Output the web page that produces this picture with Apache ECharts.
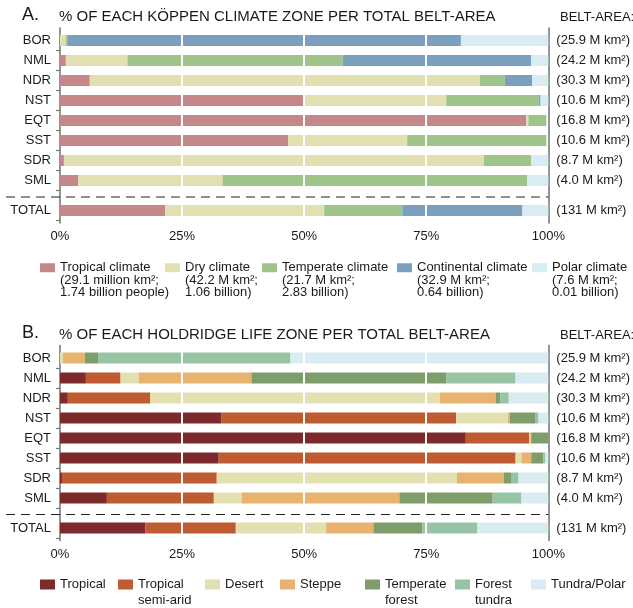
<!DOCTYPE html>
<html>
<head>
<meta charset="utf-8">
<script src="https://cdn.jsdelivr.net/npm/echarts@6/dist/echarts.min.js"></script>
<style>
  html, body { margin: 0; padding: 0; background: #fff; }
  #chart { width: 633px; height: 608px; }
</style>
</head>
<body>
<div id="chart"></div>
<script>
// Latitude belts and their land areas (million km²)
const belts = ['BOR', 'NML', 'NDR', 'NST', 'EQT', 'SST', 'SDR', 'SML', 'TOTAL'];
const beltAreas = ['25.9', '24.2', '30.3', '10.6', '16.8', '10.6', '8.7', '4.0', '131'];
const xTicks = [0, 25, 50, 75, 100];
const gridLines = [25, 50, 75];

// Köppen climate zones, % of belt area
const koppenNames = ['Tropical climate', 'Dry climate', 'Temperate climate', 'Continental climate', 'Polar climate'];
const koppenColors = ['#c4888a', '#e2e0b0', '#9fc48a', '#7b9fbe', '#d9ecf3'];
const koppenLegendLines = [
  ['Tropical climate', '(29.1 million km²;', '1.74 billion people)'],
  ['Dry climate', '(42.2 M km²;', '1.06 billion)'],
  ['Temperate climate', '(21.7 M km²;', '2.83 billion)'],
  ['Continental climate', '(32.9 M km²;', '0.64 billion)'],
  ['Polar climate', '(7.6 M km²;', '0.01 billion)']
];
const kTropical    = [0,    1.2,  6.1, 49.9, 95.5, 46.7,  0.8,  3.7, 21.5];
const kDry         = [1.2, 12.6, 79.9, 29.2,  0.4, 24.4, 86.0, 29.6, 32.6];
const kTemperate   = [0.3, 44.1,  5.1, 18.9,  3.7, 28.5,  9.7, 62.4, 16.0];
const kContinental = [80.6, 38.6, 5.6,  0.4,  0,    0,    0,    0,   24.6];
const kPolar       = [17.9, 3.5,  3.3,  1.6,  0,    0,    3.5,  4.3,  5.3];
const koppenValues = [kTropical, kDry, kTemperate, kContinental, kPolar];

// Holdridge life zones, % of belt area
const holdridgeNames = ['Tropical', 'Tropical semi-arid', 'Desert', 'Steppe', 'Temperate forest', 'Forest tundra', 'Tundra/Polar'];
const holdridgeColors = ['#7d2a2d', '#bf5b30', '#e2e0b0', '#e8b26f', '#7f9c6b', '#97c4a4', '#d9ecf3'];
const holdridgeLegendLines = [
  ['Tropical'], ['Tropical', 'semi-arid'], ['Desert'], ['Steppe'],
  ['Temperate', 'forest'], ['Forest', 'tundra'], ['Tundra/Polar']
];
const hTropical     = [0,    5.3,  1.6, 33.1, 83.1, 32.5,  0.4,  9.6, 17.5];
const hSemiArid     = [0,    7.1, 16.9, 48.0, 13.0, 60.8, 31.7, 21.9, 18.5];
const hDesert       = [0.6,  3.7, 59.3, 10.6,  0.2,  1.2, 49.2,  5.7, 18.5];
const hSteppe       = [4.5, 23.1, 11.4,  0.4,  0.2,  2.0,  9.6, 32.3,  9.7];
const hTempForest   = [2.8, 39.9,  1.0,  5.3,  3.5,  2.5,  1.6, 19.1, 10.0];
const hForestTundra = [39.3, 14.2, 1.7,  0.6,  0,    0.4,  1.4,  5.9, 11.2];
const hTundra       = [52.8,  6.7, 8.1,  2.0,  0,    0.6,  6.1,  5.5, 14.6];
const holdridgeValues = [hTropical, hSemiArid, hDesert, hSteppe, hTempForest, hForestTundra, hTundra];

const FONT = "'Liberation Sans', Arial, Helvetica, sans-serif";
const INK = '#1a1a1a';
const AXIS_GRAY = '#7a7a7a';

// The belt axis is laid out on thin 5px slots so the TOTAL row can sit
// further below the belts, with the separator in the wider gap.
const SLOT_COUNT = 39;
const beltSlot = i => (i < 8 ? 2 + 4 * i : 36);
const tickSlots = [4, 8, 12, 16, 20, 24, 28, 32, 38];
const slotNames = Array.from({ length: SLOT_COUNT }, (_, s) => {
  const i = belts.findIndex((b, j) => beltSlot(j) === s);
  return i >= 0 ? belts[i] : '_' + s;
});
function spread(values) {
  const out = new Array(SLOT_COUNT).fill('-');
  values.forEach((v, i) => { out[beltSlot(i)] = v; });
  return out;
}

function beltAxes(gridIndex) {
  return [
    {
      type: 'category', gridIndex, inverse: true, data: slotNames,
      axisLine: { show: true, lineStyle: { color: AXIS_GRAY, width: 1.6 } },
      axisTick: {
        show: true, alignWithLabel: true, length: 4,
        interval: idx => tickSlots.includes(idx),
        lineStyle: { color: AXIS_GRAY, width: 1.2 }
      },
      axisLabel: {
        interval: 0, margin: 9, fontSize: 13, color: INK, fontFamily: FONT,
        formatter: v => (v.charAt(0) === '_' ? '' : v)
      },
      splitLine: { show: false }
    },
    {
      type: 'category', gridIndex, inverse: true, position: 'right', data: slotNames,
      axisLine: { show: true, lineStyle: { color: AXIS_GRAY, width: 1.6 } },
      axisTick: { show: false },
      axisLabel: {
        interval: 0, margin: 8, fontSize: 13, color: INK, fontFamily: FONT,
        formatter: v => {
          const i = belts.indexOf(v);
          return i < 0 ? '' : '(' + beltAreas[i] + ' M km²)';
        }
      },
      splitLine: { show: false }
    }
  ];
}

function pctAxis(gridIndex) {
  return {
    type: 'value', gridIndex, min: xTicks[0], max: xTicks[xTicks.length - 1],
    interval: xTicks[1] - xTicks[0],
    axisLine: { show: false }, axisTick: { show: false }, splitLine: { show: false },
    axisLabel: { margin: 7, fontSize: 13, color: INK, fontFamily: FONT, formatter: '{value}%' }
  };
}

function stackSeries(names, colors, values, axisIdx, stack) {
  return names.map((name, k) => {
    const s = {
      name, type: 'bar', stack, barWidth: 11,
      xAxisIndex: axisIdx, yAxisIndex: axisIdx * 2,
      itemStyle: { color: colors[k] },
      data: spread(values[k])
    };
    if (k === 0) {
      s.markLine = {
        silent: true, symbol: ['none', 'none'], label: { show: false },
        lineStyle: { color: '#ffffff', width: 2, type: 'solid' },
        z: 5,
        data: gridLines.map(x => ({ xAxis: x }))
      };
    }
    return s;
  });
}

// Legend entries: the text block is padded with blank lines on top so that
// its first line sits level with the colour swatch.
function makeLegend(name, lines, left, iconTop, w, h, lh) {
  const n = lines.length;
  const textTop = h / 2 - (2 * n - 1) * lh / 2;
  const text = new Array(n - 1).fill('').concat(lines).join('\n');
  return {
    data: [name], left, top: iconTop + Math.min(0, textTop), padding: 0,
    orient: 'horizontal', itemWidth: w, itemHeight: h, itemGap: 0,
    icon: 'rect', selectedMode: false,
    formatter: () => text,
    textStyle: { fontSize: 13, color: INK, fontFamily: FONT, lineHeight: lh }
  };
}

const koppenLegendLeft = [40, 165, 262, 397, 532];
const holdridgeLegendLeft = [40, 118, 205, 280, 365, 455, 531];

const titleStyle = size => ({ fontSize: size, fontWeight: 'normal', color: INK, fontFamily: FONT });

const option = {
  animation: false,
  backgroundColor: '#ffffff',
  textStyle: { fontFamily: FONT },
  title: [
    { text: 'A.', left: 22, top: 6, padding: 0, textStyle: titleStyle(18) },
    { text: '% OF EACH KÖPPEN CLIMATE ZONE PER TOTAL BELT-AREA', left: 59, top: 9, padding: 0, textStyle: titleStyle(15) },
    { text: 'BELT-AREA:', left: 560, top: 11, padding: 0, textStyle: titleStyle(13) },
    { text: 'B.', left: 22, top: 324, padding: 0, textStyle: titleStyle(18) },
    { text: '% OF EACH HOLDRIDGE LIFE ZONE PER TOTAL BELT-AREA', left: 59, top: 327, padding: 0, textStyle: titleStyle(15) },
    { text: 'BELT-AREA:', left: 560, top: 329, padding: 0, textStyle: titleStyle(13) }
  ],
  grid: [
    { left: 60, right: 81, top: 28, height: 195 },
    { left: 60, right: 81, top: 345.5, height: 195 }
  ],
  xAxis: [pctAxis(0), pctAxis(1)],
  yAxis: [...beltAxes(0), ...beltAxes(1)],
  legend: [
    ...koppenNames.map((nm, i) => makeLegend(nm, koppenLegendLines[i], koppenLegendLeft[i], 263, 15, 9, 12.5)),
    ...holdridgeNames.map((nm, i) => makeLegend(nm, holdridgeLegendLines[i], holdridgeLegendLeft[i], 579.5, 15, 10, 15.5))
  ],
  series: [
    ...stackSeries(koppenNames, koppenColors, koppenValues, 0, 'koppen'),
    ...stackSeries(holdridgeNames, holdridgeColors, holdridgeValues, 1, 'holdridge')
  ]
};

const chart = echarts.init(document.getElementById('chart'), null, { renderer: 'canvas' });
chart.setOption(option);

// Dashed separator between the belts and the TOTAL row, placed through the axes
function separator(axisIdx) {
  const a = chart.convertToPixel({ yAxisIndex: axisIdx * 2 }, slotNames[33]);
  const b = chart.convertToPixel({ yAxisIndex: axisIdx * 2 }, slotNames[34]);
  const y = a + (b - a) * 0.3;
  const xEnd = chart.convertToPixel({ xAxisIndex: axisIdx }, xTicks[xTicks.length - 1]);
  return {
    type: 'line', z: 10, silent: true,
    shape: { x1: 6, y1: y, x2: xEnd, y2: y },
    style: { stroke: '#222', lineWidth: 1.2, lineDash: [9, 6] }
  };
}
chart.setOption({ graphic: [separator(0), separator(1)] });
</script>
</body>
</html>
